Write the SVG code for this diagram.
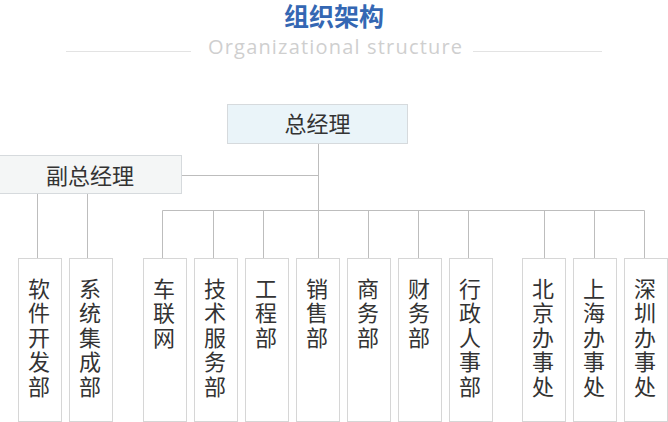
<svg xmlns="http://www.w3.org/2000/svg" width="668" height="422" viewBox="0 0 668 422">
<style>
.cn{font-family:"Noto Sans CJK SC","Noto Sans",sans-serif;font-size:22px;fill:#333333;text-anchor:middle}
.vt{font-family:"Noto Sans CJK SC","Noto Sans",sans-serif;font-size:22px;fill:#333333;writing-mode:vertical-rl;letter-spacing:2.5px}
.box{fill:#ffffff;stroke:#d6d6d6;stroke-width:1}
.ln{fill:none;stroke:#bdbdbd;stroke-width:1}
.hl{fill:none;stroke:#e3e3e3;stroke-width:1}
</style>
<rect width="668" height="422" fill="#ffffff"/>
<g id="title">
<text x="334" y="26" font-family="'Noto Sans CJK SC',sans-serif" font-size="25" font-weight="bold" fill="#3467b3" text-anchor="middle">组织架构</text>
<text x="208" y="54" font-family="'Open Sans','Noto Sans',sans-serif" font-size="20" fill="#cfcfcf" textLength="254" lengthAdjust="spacing">Organizational structure</text>
<path class="hl" d="M66 51.5H191M473 51.5H602"/>
</g>
<g id="connectors">
<path class="ln" d="M318.5 144V210.5M182 175.5H318.5M162.5 210.5H644.5"/>
<path class="ln" d="M37.5 194V258.5M87.5 194V258.5"/>
<path class="ln" d="M162.5 210.5V258.5M213.5 210.5V258.5M263.5 210.5V258.5M318.5 210.5V258.5M368.5 210.5V258.5M418.5 210.5V258.5M468.5 210.5V258.5M544.5 210.5V258.5M594.5 210.5V258.5M644.5 210.5V258.5"/>
</g>
<g id="n-gm">
<rect x="227.5" y="104.5" width="180" height="39" fill="#eaf4f9" stroke="#d6dadd"/>
<text class="cn" x="317.5" y="132">总经理</text>
</g>
<g id="n-vgm">
<rect x="-0.5" y="155.5" width="182" height="38" fill="#f4f6f6" stroke="#d6dadd"/>
<text class="cn" x="90" y="184">副总经理</text>
</g>
<g id="n-1"><rect class="box" x="18.5" y="258.5" width="43" height="163"/><text class="vt" x="39" y="277.5">软件开发部</text></g>
<g id="n-2"><rect class="box" x="69.5" y="258.5" width="43" height="163"/><text class="vt" x="90" y="277.5">系统集成部</text></g>
<g id="n-3"><rect class="box" x="143.5" y="258.5" width="43" height="163"/><text class="vt" x="164" y="277.5">车联网</text></g>
<g id="n-4"><rect class="box" x="194.5" y="258.5" width="43" height="163"/><text class="vt" x="215" y="277.5">技术服务部</text></g>
<g id="n-5"><rect class="box" x="245.5" y="258.5" width="43" height="163"/><text class="vt" x="266" y="277.5">工程部</text></g>
<g id="n-6"><rect class="box" x="296.5" y="258.5" width="43" height="163"/><text class="vt" x="317" y="277.5">销售部</text></g>
<g id="n-7"><rect class="box" x="347.5" y="258.5" width="43" height="163"/><text class="vt" x="368" y="277.5">商务部</text></g>
<g id="n-8"><rect class="box" x="398.5" y="258.5" width="43" height="163"/><text class="vt" x="419" y="277.5">财务部</text></g>
<g id="n-9"><rect class="box" x="449.5" y="258.5" width="43" height="163"/><text class="vt" x="470" y="277.5">行政人事部</text></g>
<g id="n-10"><rect class="box" x="522.5" y="258.5" width="43" height="163"/><text class="vt" x="543" y="277.5">北京办事处</text></g>
<g id="n-11"><rect class="box" x="573.5" y="258.5" width="43" height="163"/><text class="vt" x="594" y="277.5">上海办事处</text></g>
<g id="n-12"><rect class="box" x="624.5" y="258.5" width="43" height="163"/><text class="vt" x="645" y="277.5">深圳办事处</text></g>
</svg>
